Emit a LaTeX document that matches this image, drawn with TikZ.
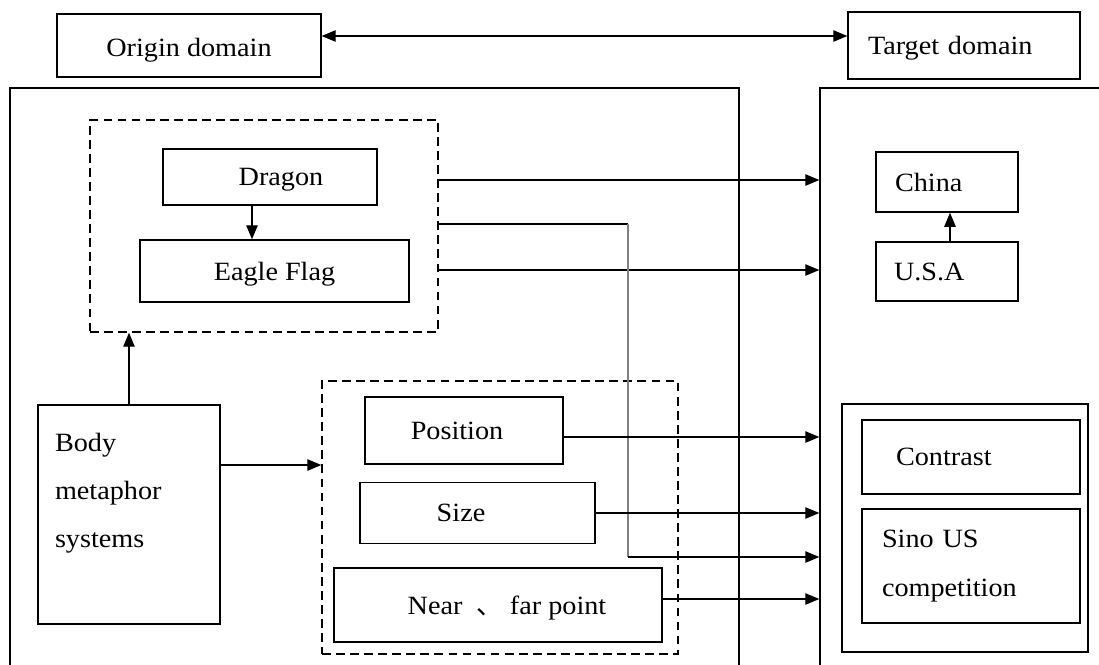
\documentclass[tikz,border=0pt]{standalone}
\usepackage{fontspec}
\setmainfont{Liberation Serif}[FakeStretch=1.07]
\newfontfamily\cjk{Noto Sans CJK SC}
\usetikzlibrary{arrows.meta}

\tikzset{
  frame/.style={draw, line width=0.8pt, inner sep=0pt, font=\fontsize{15}{27.5}\selectfont},
  box/.style={frame, text depth=0pt},
  lbox/.style={box, align=left},
  multibox/.style={frame, align=left},
  group/.style={draw, line width=0.8pt, dash pattern=on 5pt off 3pt, inner sep=0pt},
  arr/.style={-{Triangle[length=8pt,width=6.5pt]}, line width=0.75pt},
  grayline/.style={draw=gray, line width=1.6pt},
}

\begin{document}
\begin{tikzpicture}[x=0.02cm, y=-0.02cm]
\useasboundingbox (0,0) rectangle (1099,664);

% Domain headers
\node [box, minimum width=5.28cm, minimum height=1.26cm] (origin) at (189,45.5) {\raisebox{-0.06cm}{Origin domain}};
\node [lbox, text width=3.84cm, inner xsep=0.4cm, minimum height=1.34cm] (target) at (964,45.5) {Target domain};

% The two large areas (running past the lower edge)
\node [box, minimum width=14.58cm, minimum height=11.84cm] (srcarea) at (374.5,384) {};
\node [box, minimum width=6cm, minimum height=11.84cm] (tgtarea) at (970,384) {};

% Upper group: dragon and eagle
\node [group, minimum width=6.96cm, minimum height=4.24cm] (grp1) at (264,226) {};
\node [box, minimum width=4.28cm, minimum height=1.12cm] (dragon) at (270,177) {\hspace*{0.44cm}Dragon};
\node [box, minimum width=5.38cm, minimum height=1.24cm] (eagle) at (274.5,271) {Eagle Flag};

% Body metaphor systems
\node [multibox, text width=2.96cm, inner xsep=0.34cm, minimum height=4.38cm] (body) at (129,514.5) {Body\\metaphor\\systems\\\mbox{}};

% Lower group: position, size, near/far
\node [group, minimum width=7.12cm, minimum height=5.46cm] (grp2) at (500,517.5) {};
\node [box, minimum width=3.96cm, minimum height=1.34cm] (position) at (464,430.5) {\hspace*{-0.28cm}Position};
\node [box, minimum width=4.7cm, minimum height=1.22cm] (size) at (477.5,513) {\hspace*{-0.66cm}Size};
\node [box, minimum width=6.56cm, minimum height=1.48cm] (near) at (498,605) {\hspace*{0.36cm}Near\ \ {\cjk 、}\ far point};

% Target side
\node [lbox, text width=2.08cm, inner xsep=0.38cm, minimum height=1.2cm] (china) at (947,182) {China};
\node [lbox, text width=2.12cm, inner xsep=0.36cm, minimum height=1.18cm] (usa) at (947,271.5) {U.S.A};
\node [box, minimum width=4.92cm, minimum height=4.96cm] (resbox) at (965,528) {};
\node [lbox, text width=3.0cm, inner xsep=0.68cm, minimum height=1.48cm] (contrast) at (971,457) {Contrast};
\node [multibox, text width=3.56cm, inner xsep=0.4cm, minimum height=2.28cm] (sino) at (971,566) {Sino US\\competition};

% Connectors
\draw [arr, {Triangle[length=8pt,width=6.5pt]}-{Triangle[length=8pt,width=6.5pt]}] ([yshift=0.19cm]origin.east) -- ([yshift=0.19cm]origin.east -| target.west);
\draw [arr] ([xshift=-0.36cm]dragon.south) -- ([xshift=-0.36cm]dragon.south |- eagle.north);
\draw [arr] (body.north) -- (body.north |- grp1.south);
\draw [arr] ([yshift=0.99cm]body.east) -- ([yshift=0.99cm]body.east -| grp2.west);
\draw [arr] ([yshift=0.92cm]grp1.east) -- ([yshift=0.92cm]grp1.east -| tgtarea.west);
\draw [arr] ([yshift=-0.88cm]grp1.east) -- ([yshift=-0.88cm]grp1.east -| tgtarea.west);
\draw [arr] ([xshift=0.06cm]usa.north) -- ([xshift=0.06cm]usa.north |- china.south);

% Grey route from the upper group down to the competition row
\coordinate (turn) at (628,557);
\draw [line width=0.75pt] ([yshift=0.04cm]grp1.east) -- ([yshift=0.04cm]grp1.east -| turn);
\draw [grayline] ([yshift=0.04cm]grp1.east -| turn) -- (turn);
\draw [arr] (turn) -- (turn -| tgtarea.west);

\draw [arr] ([yshift=-0.13cm]position.east) -- ([yshift=-0.13cm]position.east -| tgtarea.west);
\draw [arr] (size.east) -- (size.east -| tgtarea.west);
\draw [arr] ([yshift=0.12cm]near.east) -- ([yshift=0.12cm]near.east -| tgtarea.west);
\end{tikzpicture}
\end{document}
